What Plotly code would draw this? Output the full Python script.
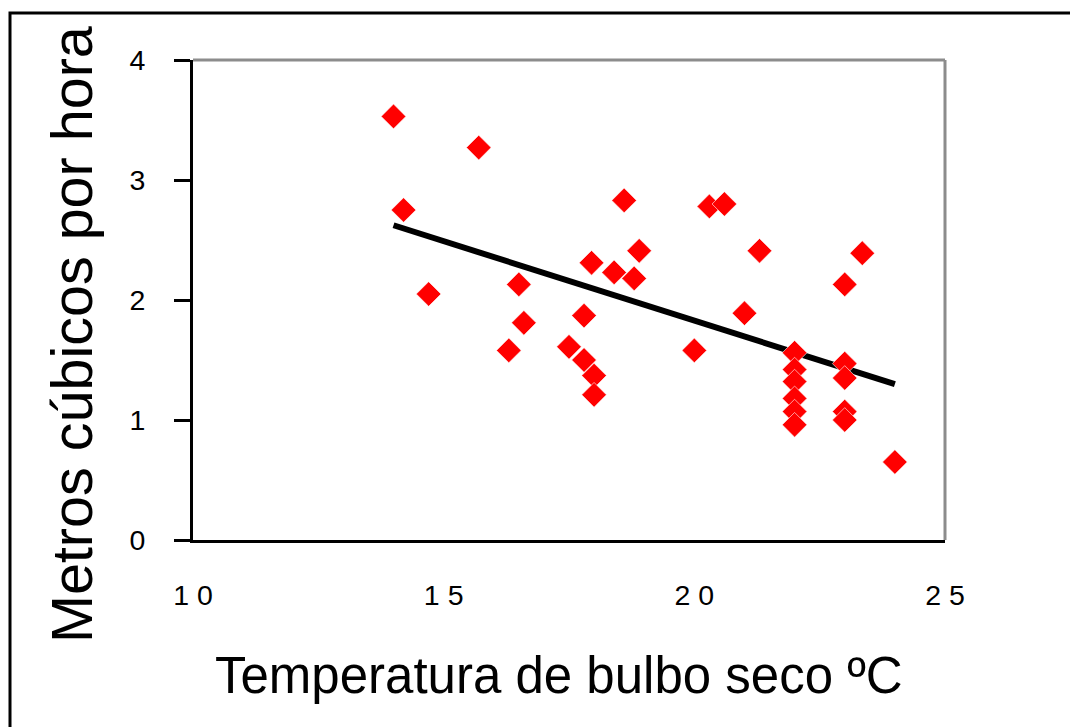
import numpy as np
import plotly.graph_objects as go

# Data
temp_c = [14.0, 14.2, 14.7, 15.7, 16.3, 16.5, 16.6, 17.5, 17.8, 17.8, 17.95,
          18.0, 18.0, 18.4, 18.6, 18.8, 18.9, 20.0, 20.3, 20.6, 21.0, 21.3,
          22.0, 22.0, 22.0, 22.0, 22.0, 22.0,
          23.0, 23.0, 23.0, 23.0, 23.0, 23.35, 24.0]
m3_per_hour = [3.53, 2.75, 2.05, 3.27, 1.58, 2.13, 1.81, 1.61, 1.87, 1.50, 2.31,
               1.37, 1.21, 2.23, 2.83, 2.18, 2.41, 1.58, 2.78, 2.80, 1.89, 2.41,
               1.56, 1.42, 1.32, 1.18, 1.07, 0.96,
               2.13, 1.47, 1.35, 1.07, 1.00, 2.39, 0.65]
x_tick_vals = [10, 15, 20, 25]
x_tick_text = ["1 0", "1 5", "2 0", "2 5"]
y_tick_vals = [0, 1, 2, 3, 4]

x_title = "Temperatura de bulbo seco ºC"
y_title = "Metros cúbicos por hora"

# Linear trend line (least squares), spanning the data range
slope, intercept = np.polyfit(temp_c, m3_per_hour, 1)
trend_x = [min(temp_c), max(temp_c)]
trend_y = [slope * v + intercept for v in trend_x]

FONT = "Liberation Sans, Arial, sans-serif"

fig = go.Figure()
fig.add_trace(go.Scatter(
    x=trend_x, y=trend_y, mode="lines",
    line=dict(color="black", width=6),
    showlegend=False,
))
fig.add_trace(go.Scatter(
    x=temp_c, y=m3_per_hour, mode="markers",
    marker=dict(symbol="diamond", size=19, color="#FF0000",
                line=dict(color="white", width=0.6)),
    showlegend=False, cliponaxis=False,
))

W, H = 1070, 727
L, R, T, B = 193, 125, 60, 187
pw, ph = W - L - R, H - T - B

def px_to_paper_x(px):
    return (px - L) / pw

def px_to_paper_y(py):
    return (H - B - py) / ph

fig.update_layout(
    width=W, height=H,
    margin=dict(l=L, r=R, t=T, b=B, pad=0),
    paper_bgcolor="white", plot_bgcolor="white",
    font=dict(family=FONT, color="black"),
    xaxis=dict(
        range=[10, 25], tickvals=x_tick_vals, ticktext=x_tick_text,
        showgrid=False, zeroline=False,
        showline=True, linecolor="black", linewidth=3,
        ticks="", ticklabelstandoff=28,
        tickfont=dict(size=28.5, family=FONT, color="black"),
    ),
    yaxis=dict(
        range=[0, 4], tickvals=y_tick_vals,
        showgrid=False, zeroline=False,
        showline=True, linecolor="black", linewidth=3,
        ticks="outside", ticklen=16, tickwidth=3, tickcolor="black",
        ticklabelstandoff=23,
        tickfont=dict(size=28.5, family=FONT, color="black"),
    ),
    shapes=[
        # gray top and right border of the plot area
        dict(type="line", xref="paper", yref="paper", x0=0, x1=1, y0=1, y1=1,
             line=dict(color="#8c8c8c", width=3)),
        dict(type="line", xref="paper", yref="paper", x0=1, x1=1, y0=0, y1=1,
             line=dict(color="#8c8c8c", width=3)),
        # outer chart frame (extends beyond the picture on right/bottom)
        dict(type="rect", xref="paper", yref="paper",
             x0=px_to_paper_x(10), x1=px_to_paper_x(1085),
             y0=px_to_paper_y(745), y1=px_to_paper_y(13),
             line=dict(color="black", width=3), layer="below"),
    ],
    annotations=[
        dict(text=x_title, xref="paper", yref="paper",
             x=px_to_paper_x(559), y=px_to_paper_y(675),
             xanchor="center", yanchor="middle", showarrow=False,
             font=dict(size=51, family=FONT, color="black")),
        dict(text=y_title, xref="paper", yref="paper", textangle=-90,
             x=px_to_paper_x(72), y=px_to_paper_y(335),
             xanchor="center", yanchor="middle", showarrow=False,
             font=dict(size=57.5, family=FONT, color="black")),
    ],
)

fig.write_html("out.html")
